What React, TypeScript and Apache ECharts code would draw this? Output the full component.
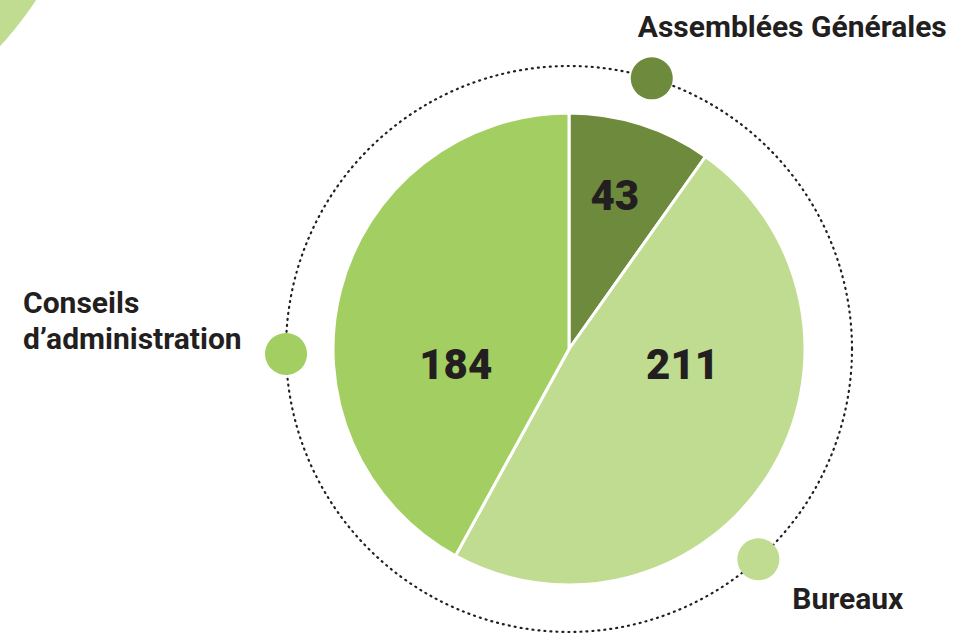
import React, { useEffect, useRef } from "react";
import * as echarts from "echarts";

const categories = ["Assemblées Générales", "Bureaux", "Conseils d’administration"];
const values = [43, 211, 184];
const colors = ["#6e8b3d", "#c0dc90", "#a3cf62"];
const markerAngles = [17, 138, 269];
const markerLabels = ["Assemblées Générales", "Bureaux", "Conseils\nd’administration"];

const FONT = "Roboto";
const INK = "#231f20";

export default function App() {
  const ref = useRef<HTMLDivElement>(null);
  useEffect(() => {
    if (!ref.current) return;
    const chart = echarts.init(ref.current, null, { renderer: "svg" });
    const labelPos: any[] = [
      { position: [7, -31], align: "left", verticalAlign: "middle" },
      { position: [55, 60], align: "left", verticalAlign: "middle" },
      { position: [-242, -12], align: "left", verticalAlign: "middle", lineHeight: 36 },
    ];
    const numberShift = [
      { dx: 9, dy: -38 },
      { dx: 11, dy: -49 },
      { dx: 4, dy: 46 },
    ];
    chart.setOption({
      animation: false,
      backgroundColor: "#ffffff",
      graphic: [
        {
          type: "circle",
          shape: { cx: -268, cy: -200, r: 364 },
          style: { fill: "#c0dc90" },
          z: 0,
        },
      ],
      polar: { center: [569, 349], radius: 283 },
      angleAxis: {
        type: "value",
        min: 0,
        max: 360,
        startAngle: 90,
        clockwise: true,
        axisLine: { show: true, lineStyle: { color: INK, width: 2.2, type: [1, 5], cap: "round" } },
        axisTick: { show: false },
        axisLabel: { show: false },
        splitLine: { show: false },
        splitArea: { show: false },
      },
      radiusAxis: {
        type: "value",
        min: 0,
        max: 1,
        axisLine: { show: false },
        axisTick: { show: false },
        axisLabel: { show: false },
        splitLine: { show: false },
      },
      series: [
        {
          type: "pie",
          center: [569, 349],
          radius: [0, 236],
          startAngle: 90,
          clockwise: true,
          silent: true,
          itemStyle: { borderColor: "#ffffff", borderWidth: 3 },
          label: {
            show: true,
            position: "inside",
            formatter: "{c}",
            color: INK,
            fontFamily: FONT,
            fontWeight: 900,
            fontSize: 42,
          },
          labelLayout: (p: any) => numberShift[p.dataIndex],
          labelLine: { show: false },
          data: categories.map((name, i) => ({
            name,
            value: values[i],
            itemStyle: { color: colors[i] },
          })),
        },
        {
          type: "scatter",
          coordinateSystem: "polar",
          symbol: "circle",
          symbolSize: 42,
          silent: true,
          z: 5,
          itemStyle: { opacity: 1 },
          data: markerAngles.map((a, i) => ({
            value: [1, a],
            itemStyle: { color: colors[i], opacity: 1 },
            label: {
              show: true,
              formatter: markerLabels[i],
              color: INK,
              fontFamily: FONT,
              fontWeight: 700,
              fontSize: 30,
              ...labelPos[i],
            },
          })),
        },
      ],
    });
    return () => chart.dispose();
  }, []);
  return (
    <div
      ref={ref}
      style={{ position: "fixed", left: 0, top: 0, width: 972, height: 634, background: "#fff" }}
    />
  );
}
